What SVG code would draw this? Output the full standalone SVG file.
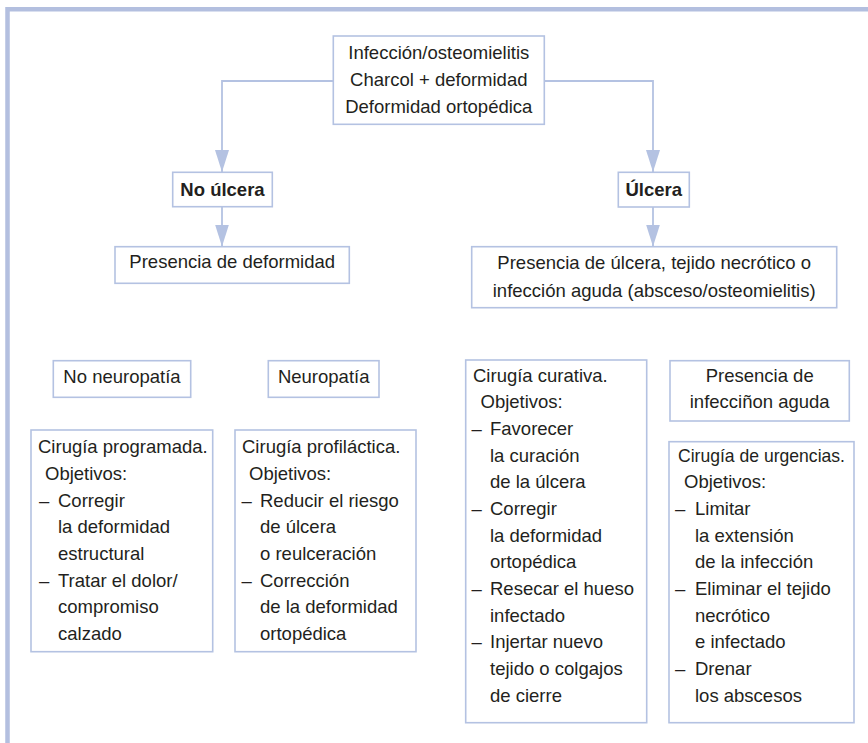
<svg xmlns="http://www.w3.org/2000/svg" width="868" height="743" viewBox="0 0 868 743">
<defs>
<style>
.frame{fill:none;stroke:#b3bfdf;stroke-width:4.5}
.box{fill:#ffffff;stroke:#b4c2e2;stroke-width:1.6}
.con{fill:none;stroke:#b4c2e2;stroke-width:1.8}
text{font-family:"Liberation Sans",Arial,sans-serif;font-size:18.5px;fill:#231f20}
.c{text-anchor:middle}
.b{font-weight:bold}
</style>
<marker id="arr" markerUnits="userSpaceOnUse" markerWidth="22" markerHeight="14" refX="22" refY="7" orient="auto">
<path d="M0,0 L22,7 L0,14 z" fill="#b4c2e2"/>
</marker>
</defs>
<rect width="868" height="743" fill="#ffffff"/>
<path class="frame" d="M7.5,743 V9.3 H868"/>

<g id="connectors">
<path class="con" d="M333.3,81 H222 V172" marker-end="url(#arr)"/>
<path class="con" d="M544.3,81 H653 V172" marker-end="url(#arr)"/>
<path class="con" d="M222,207 V246.5" marker-end="url(#arr)"/>
<path class="con" d="M653,207 V246.5" marker-end="url(#arr)"/>
</g>

<g id="n-top">
<rect class="box" x="333.3" y="36" width="211" height="88.3"/>
<text class="c" x="438.8" y="58.5">Infección/osteomielitis</text>
<text class="c" x="438.8" y="85.5">Charcol + deformidad</text>
<text class="c" x="438.8" y="112.5">Deformidad ortopédica</text>
</g>

<g id="n-noulcera">
<rect class="box" x="172.7" y="172.3" width="99.6" height="34.4"/>
<text class="c b" x="222.5" y="196">No úlcera</text>
</g>

<g id="n-ulcera">
<rect class="box" x="618.3" y="172.3" width="71" height="34.7"/>
<text class="c b" x="653.8" y="196">Úlcera</text>
</g>

<g id="n-deformidad">
<rect class="box" x="115" y="246.7" width="234.3" height="36.6"/>
<text class="c" x="232.2" y="268.3">Presencia de deformidad</text>
</g>

<g id="n-presencia-ulcera">
<rect class="box" x="471.7" y="246.7" width="365" height="61"/>
<text class="c" x="654.2" y="269.3">Presencia de úlcera, tejido necrótico o</text>
<text class="c" x="654.2" y="296.7">infección aguda (absceso/osteomielitis)</text>
</g>

<g id="n-noneuropatia">
<rect class="box" x="53.3" y="360.7" width="137.4" height="36.6"/>
<text class="c" x="122" y="383.3">No neuropatía</text>
</g>

<g id="n-neuropatia">
<rect class="box" x="268.3" y="360.7" width="110.7" height="36.6"/>
<text class="c" x="323.7" y="383.3">Neuropatía</text>
</g>

<g id="n-infeccion-aguda">
<rect class="box" x="670" y="360.7" width="179.3" height="60.3"/>
<text class="c" x="759.7" y="381.7">Presencia de</text>
<text class="c" x="759.7" y="408.3">infecciñon aguda</text>
</g>

<g id="n-programada">
<rect class="box" x="31" y="430" width="181.7" height="221.7"/>
<text x="38" y="453.4">Cirugía programada.</text>
<text x="45" y="480.1">Objetivos:</text>
<text x="39" y="506.7">–</text>
<text x="58" y="506.7">Corregir</text>
<text x="58" y="533.4">la deformidad</text>
<text x="58" y="560">estructural</text>
<text x="39" y="586.7">–</text>
<text x="58" y="586.7">Tratar el dolor/</text>
<text x="58" y="613.3">compromiso</text>
<text x="58" y="640">calzado</text>
</g>

<g id="n-profilactica">
<rect class="box" x="235" y="430" width="181" height="221.7"/>
<text x="242" y="453.4">Cirugía profiláctica.</text>
<text x="249" y="480.1">Objetivos:</text>
<text x="241.5" y="506.7">–</text>
<text x="260" y="506.7">Reducir el riesgo</text>
<text x="260" y="533.4">de úlcera</text>
<text x="260" y="560">o reulceración</text>
<text x="241.5" y="586.7">–</text>
<text x="260" y="586.7">Corrección</text>
<text x="260" y="613.3">de la deformidad</text>
<text x="260" y="640">ortopédica</text>
</g>

<g id="n-curativa">
<rect class="box" x="465.7" y="360" width="181" height="362.7"/>
<text x="473" y="381.7">Cirugía curativa.</text>
<text x="480.5" y="408.3">Objetivos:</text>
<text x="471.5" y="435">–</text>
<text x="490" y="435">Favorecer</text>
<text x="490" y="461.6">la curación</text>
<text x="490" y="488.3">de la úlcera</text>
<text x="471.5" y="514.9">–</text>
<text x="490" y="514.9">Corregir</text>
<text x="490" y="541.6">la deformidad</text>
<text x="490" y="568.2">ortopédica</text>
<text x="471.5" y="594.9">–</text>
<text x="490" y="594.9">Resecar el hueso</text>
<text x="490" y="621.5">infectado</text>
<text x="471.5" y="648.2">–</text>
<text x="490" y="648.2">Injertar nuevo</text>
<text x="490" y="674.8">tejido o colgajos</text>
<text x="490" y="701.5">de cierre</text>
</g>

<g id="n-urgencias">
<rect class="box" x="669" y="441.7" width="185" height="281"/>
<text x="678" y="461.6" textLength="167" lengthAdjust="spacingAndGlyphs">Cirugía de urgencias.</text>
<text x="684" y="488.3">Objetivos:</text>
<text x="675" y="514.9">–</text>
<text x="695" y="514.9">Limitar</text>
<text x="695" y="541.6">la extensión</text>
<text x="695" y="568.2">de la infección</text>
<text x="675" y="594.9">–</text>
<text x="695" y="594.9">Eliminar el tejido</text>
<text x="695" y="621.5">necrótico</text>
<text x="695" y="648.2">e infectado</text>
<text x="675" y="674.8">–</text>
<text x="695" y="674.8">Drenar</text>
<text x="695" y="701.5">los abscesos</text>
</g>
</svg>
